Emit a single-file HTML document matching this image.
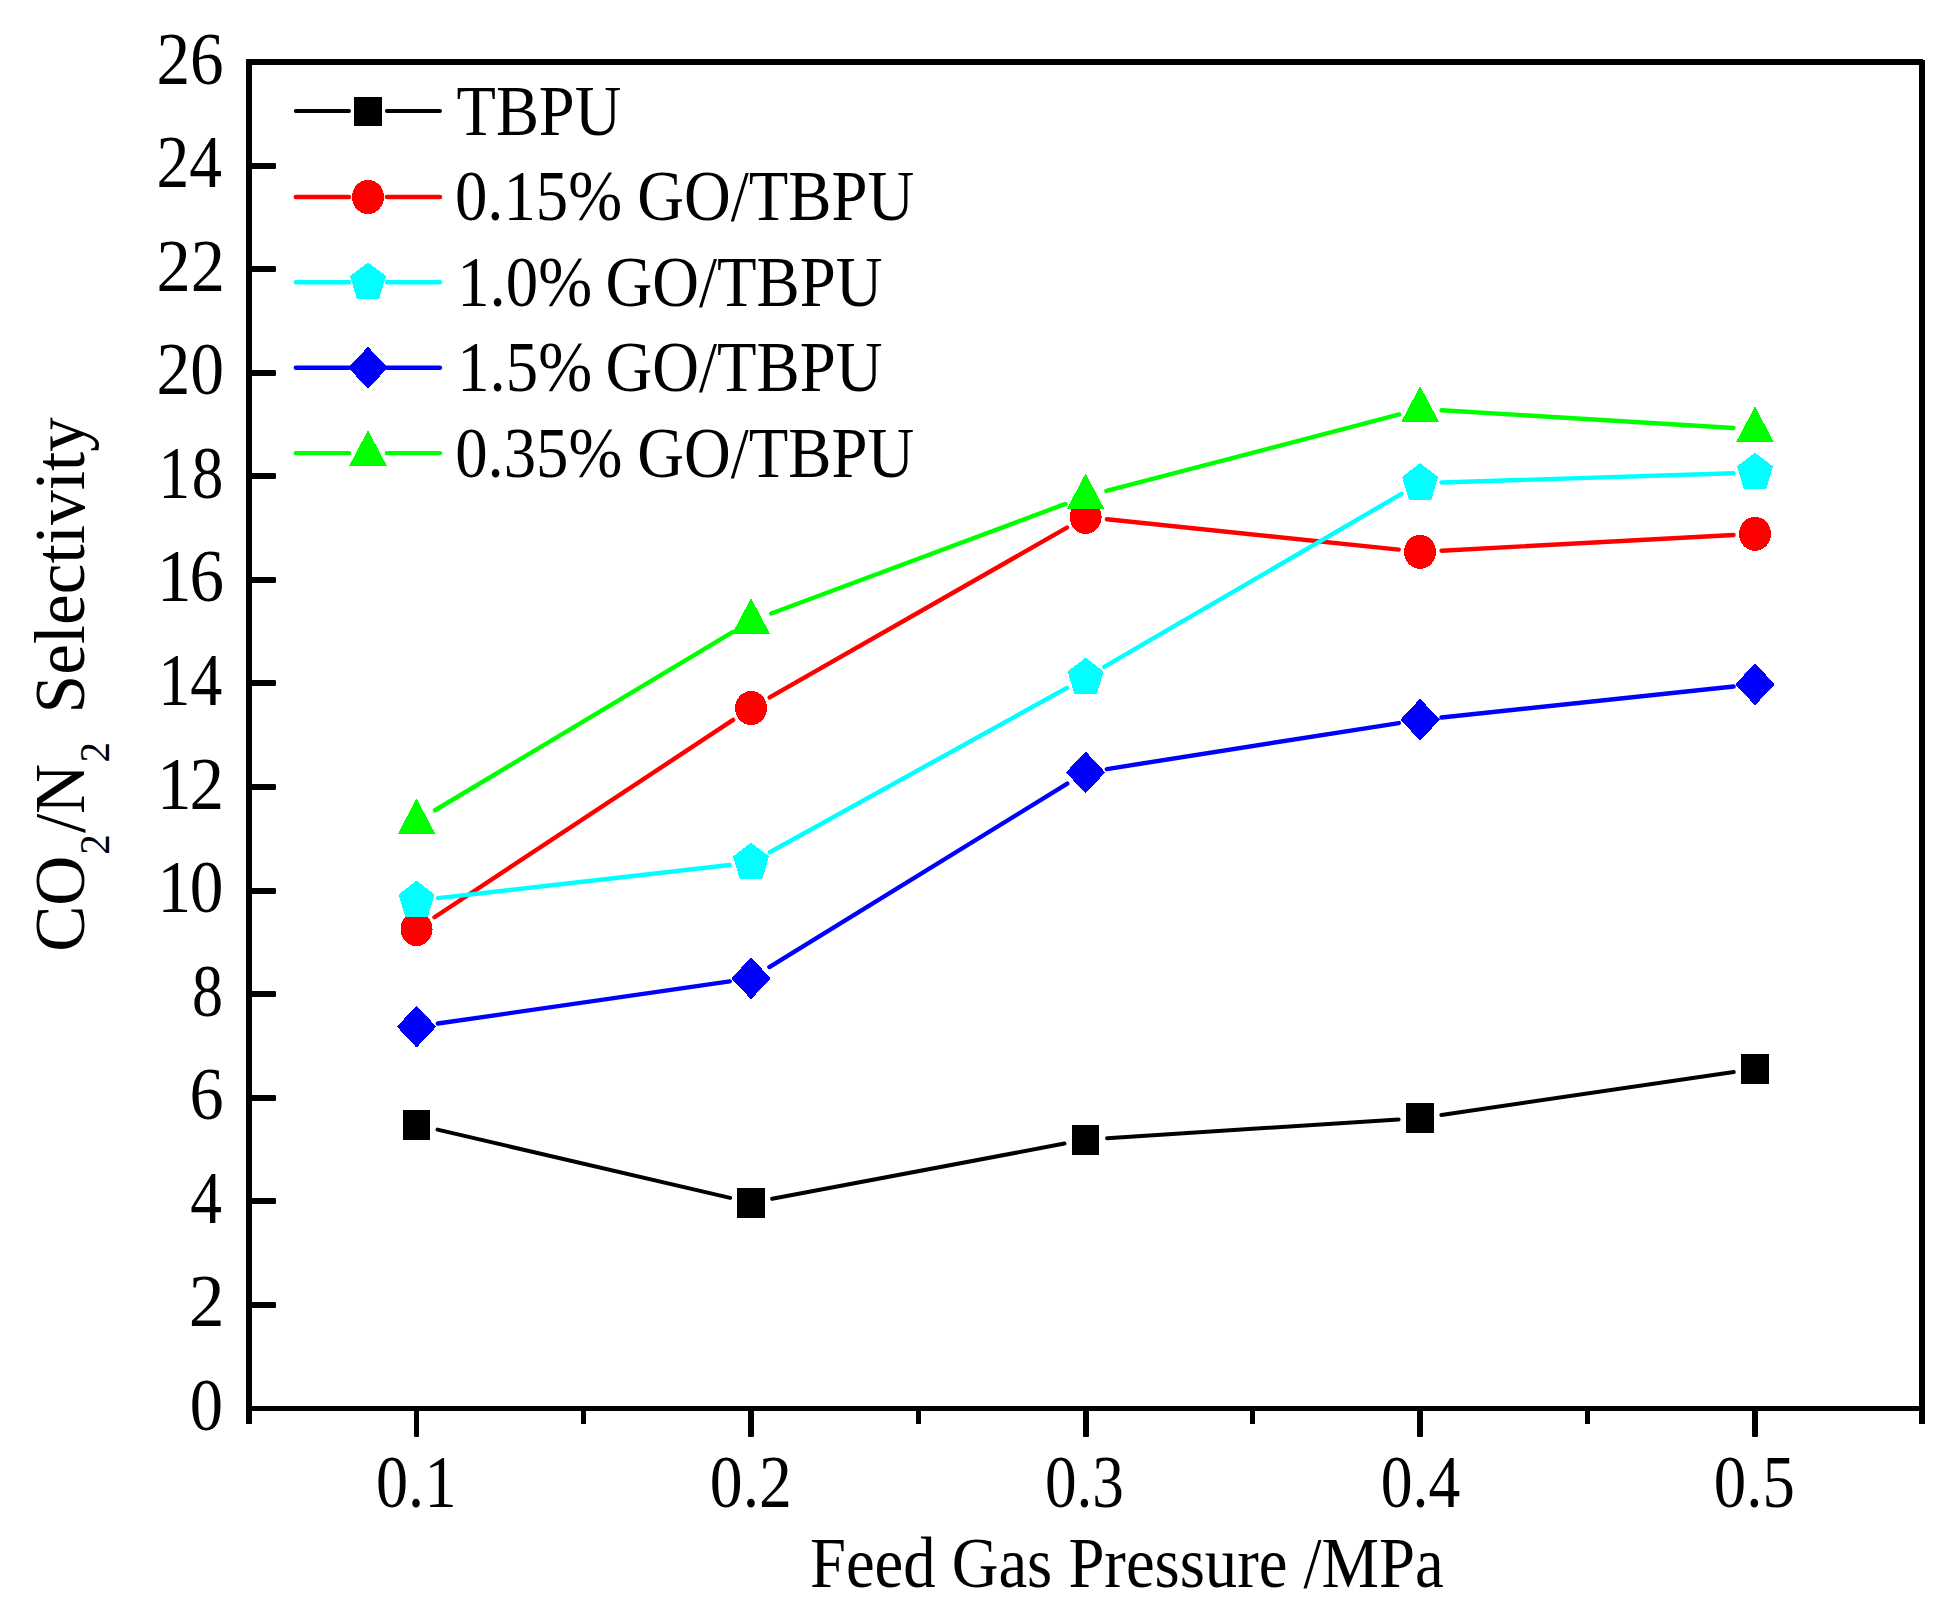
<!DOCTYPE html>
<html lang="en"><head><meta charset="utf-8"><title>CO2/N2 Selectivity vs Feed Gas Pressure</title>
<style>html,body{margin:0;padding:0;background:#fff}svg{display:block}text{font-family:"Liberation Serif",serif;font-size:72px;fill:#000;font-kerning:none;white-space:pre}</style>
</head><body>
<svg width="1954" height="1617" viewBox="0 0 1954 1617">
<rect width="1954" height="1617" fill="#fff"/>
<g id="plot" shape-rendering="crispEdges">
<path d="M437.49 1129.64L730.11 1197.91M772.18 1198.81L1064.47 1143.59M1107.06 1138.22L1398.64 1119.43M1441.37 1114.93L1733.73 1072.02" fill="none" stroke="#000000" stroke-width="4" stroke-linecap="round" shape-rendering="geometricPrecision"/>
<rect x="402.7" y="1109.75" width="27.7" height="30" fill="#000000"/>
<rect x="737.2" y="1187.8" width="27.7" height="30" fill="#000000"/>
<rect x="1071.75" y="1124.6" width="27.7" height="30" fill="#000000"/>
<rect x="1406.25" y="1103.05" width="27.7" height="30" fill="#000000"/>
<rect x="1741.15" y="1053.9" width="27.7" height="30" fill="#000000"/>
<path d="M434.49 917.25L733.11 719.9M769.72 697.39L1066.93 527.66M1106.98 519.23L1398.72 549.62M1441.57 550.69L1733.53 534.96" fill="none" stroke="#ff0000" stroke-width="4.4" stroke-linecap="round" shape-rendering="geometricPrecision"/>
<ellipse cx="416.55" cy="929.1" rx="16" ry="17.05" fill="#ff0000"/>
<ellipse cx="751.05" cy="708.05" rx="16" ry="17.05" fill="#ff0000"/>
<ellipse cx="1085.6" cy="517" rx="16" ry="17.05" fill="#ff0000"/>
<ellipse cx="1420.1" cy="551.85" rx="16" ry="17.05" fill="#ff0000"/>
<ellipse cx="1755" cy="533.8" rx="16" ry="17.05" fill="#ff0000"/>
<path d="M437.91 898.17L729.69 865.03M769.86 852.2L1066.79 688M1104.19 666.79L1401.51 493.91M1441.59 482.43L1733.51 473.27" fill="none" stroke="#00ffff" stroke-width="4.4" stroke-linecap="round" shape-rendering="geometricPrecision"/>
<polygon points="416.55,881.3 433.95,894.6 427.35,916.7 405.75,916.7 399.15,894.6" fill="#00ffff" stroke="#00ffff" stroke-width="1" stroke-linejoin="round"/>
<polygon points="751.05,843.3 768.45,856.6 761.85,878.7 740.25,878.7 733.65,856.6" fill="#00ffff" stroke="#00ffff" stroke-width="1" stroke-linejoin="round"/>
<polygon points="1085.6,658.3 1103,671.6 1096.4,693.7 1074.8,693.7 1068.2,671.6" fill="#00ffff" stroke="#00ffff" stroke-width="1" stroke-linejoin="round"/>
<polygon points="1420.1,463.8 1437.5,477.1 1430.9,499.2 1409.3,499.2 1402.7,477.1" fill="#00ffff" stroke="#00ffff" stroke-width="1" stroke-linejoin="round"/>
<polygon points="1755,453.3 1772.4,466.6 1765.8,488.7 1744.2,488.7 1737.6,466.6" fill="#00ffff" stroke="#00ffff" stroke-width="1" stroke-linejoin="round"/>
<path d="M437.83 1023.53L729.77 981.37M769.36 967.03L1067.29 783.67M1106.84 769.05L1398.86 723.05M1441.48 717.44L1733.62 686.56" fill="none" stroke="#0000ff" stroke-width="4.4" stroke-linecap="round" shape-rendering="geometricPrecision"/>
<polygon points="416.55,1006.3 435.55,1026.6 416.55,1046.9 397.55,1026.6" fill="#0000ff" stroke="#0000ff" stroke-width="1" stroke-linejoin="round"/>
<polygon points="751.05,958 770.05,978.3 751.05,998.6 732.05,978.3" fill="#0000ff" stroke="#0000ff" stroke-width="1" stroke-linejoin="round"/>
<polygon points="1085.6,752.1 1104.6,772.4 1085.6,792.7 1066.6,772.4" fill="#0000ff" stroke="#0000ff" stroke-width="1" stroke-linejoin="round"/>
<polygon points="1420.1,699.4 1439.1,719.7 1420.1,740 1401.1,719.7" fill="#0000ff" stroke="#0000ff" stroke-width="1" stroke-linejoin="round"/>
<polygon points="1755,664 1774,684.3 1755,704.6 1736,684.3" fill="#0000ff" stroke="#0000ff" stroke-width="1" stroke-linejoin="round"/>
<path d="M435 810.25L732.6 632.05M771.2 613.5L1065.45 503.9M1106.4 490.96L1399.3 414.44M1441.56 410.3L1733.54 428" fill="none" stroke="#00ff00" stroke-width="4.4" stroke-linecap="round" shape-rendering="geometricPrecision"/>
<polygon points="416.55,799.5 434.65,833.7 398.45,833.7" fill="#00ff00" stroke="#00ff00" stroke-width="1" stroke-linejoin="round"/>
<polygon points="751.05,599.2 769.15,633.4 732.95,633.4" fill="#00ff00" stroke="#00ff00" stroke-width="1" stroke-linejoin="round"/>
<polygon points="1085.6,474.6 1103.7,508.8 1067.5,508.8" fill="#00ff00" stroke="#00ff00" stroke-width="1" stroke-linejoin="round"/>
<polygon points="1420.1,387.2 1438.2,421.4 1402,421.4" fill="#00ff00" stroke="#00ff00" stroke-width="1" stroke-linejoin="round"/>
<polygon points="1755,407.5 1773.1,441.7 1736.9,441.7" fill="#00ff00" stroke="#00ff00" stroke-width="1" stroke-linejoin="round"/>
</g>
<g id="axes" stroke="#000" fill="none" shape-rendering="crispEdges">
<g stroke="none" fill="#000">
<rect x="246" y="59" width="6" height="1365"/>
<rect x="246" y="59" width="1677" height="6"/>
<rect x="1919" y="60" width="6" height="1364"/>
<rect x="246" y="1406" width="1679" height="5"/>
</g>
<g stroke="none" fill="#000" shape-rendering="geometricPrecision">
<rect x="250" y="1302" width="26" height="6" rx="1.3"/>
<rect x="250" y="1198" width="26" height="6" rx="1.3"/>
<rect x="250" y="1095" width="26" height="6" rx="1.3"/>
<rect x="250" y="991" width="26" height="6" rx="1.3"/>
<rect x="250" y="888" width="26" height="6" rx="1.3"/>
<rect x="250" y="784" width="26" height="6" rx="1.3"/>
<rect x="250" y="680" width="26" height="6" rx="1.3"/>
<rect x="250" y="577" width="26" height="6" rx="1.3"/>
<rect x="250" y="473" width="26" height="6" rx="1.3"/>
<rect x="250" y="370" width="26" height="6" rx="1.3"/>
<rect x="250" y="266" width="26" height="6" rx="1.3"/>
<rect x="250" y="163" width="26" height="6" rx="1.3"/>
<rect x="414" y="1408" width="5" height="29" rx="1"/>
<rect x="748" y="1408" width="6" height="29" rx="1"/>
<rect x="1083" y="1408" width="6" height="29" rx="1"/>
<rect x="1417" y="1408" width="6" height="29" rx="1"/>
<rect x="1752" y="1408" width="6" height="29" rx="1"/>
<rect x="581" y="1408" width="5" height="16"/>
<rect x="916" y="1408" width="5" height="16"/>
<rect x="1250" y="1408" width="5" height="16"/>
<rect x="1585" y="1408" width="5" height="16"/>
</g>
</g>
<g id="labels">
<text transform="translate(189.87 1430) scale(0.9053 1)" style="font-size:73.5px">0</text>
<text transform="translate(188.75 1326.43) scale(0.9741 1)" style="font-size:73.5px">2</text>
<text transform="translate(190.36 1222.87) scale(0.8634 1)" style="font-size:73.5px">4</text>
<text transform="translate(189.56 1119.3) scale(0.9299 1)" style="font-size:73.5px">6</text>
<text transform="translate(192.04 1015.74) scale(0.8443 1)" style="font-size:73.5px">8</text>
<text transform="translate(157.45 912.17) scale(0.9149 1)"><tspan style="font-size:73.5px">1</tspan><tspan dx="-1.35" style="font-size:73.5px">0</tspan></text>
<text transform="translate(156.97 808.61) scale(0.9400 1)"><tspan style="font-size:73.5px">1</tspan><tspan dx="-2.12" style="font-size:73.5px">2</tspan></text>
<text transform="translate(158.28 705.04) scale(0.8722 1)"><tspan style="font-size:73.5px">1</tspan><tspan dx="0.02" style="font-size:73.5px">4</tspan></text>
<text transform="translate(156.98 601.48) scale(0.9394 1)"><tspan style="font-size:73.5px">1</tspan><tspan dx="-2.09" style="font-size:73.5px">6</tspan></text>
<text transform="translate(158.52 497.91) scale(0.8600 1)"><tspan style="font-size:73.5px">1</tspan><tspan dx="2.06" style="font-size:73.5px">8</tspan></text>
<text transform="translate(156.53 394.35) scale(0.9189 1)" style="font-size:73.5px">20</text>
<text transform="translate(156.5 290.78) scale(0.9303 1)" style="font-size:73.5px">22</text>
<text transform="translate(156.62 187.22) scale(0.8912 1)" style="font-size:73.5px">24</text>
<text transform="translate(156.55 83.65) scale(0.9136 1)" style="font-size:73.5px">26</text>
<text transform="translate(375.96 1507.2) scale(0.8719 1)"><tspan style="font-size:73.5px">0.</tspan><tspan dx="0.62" style="font-size:73.5px">1</tspan></text>
<text transform="translate(709.8 1507.2) scale(0.8939 1)" style="font-size:73.5px">0.2</text>
<text transform="translate(1044.89 1507.2) scale(0.8607 1)" style="font-size:73.5px">0.3</text>
<text transform="translate(1380.67 1507.2) scale(0.8666 1)" style="font-size:73.5px">0.4</text>
<text transform="translate(1713.83 1507.2) scale(0.8816 1)" style="font-size:73.5px">0.5</text>
<text transform="translate(809.94 1587) scale(0.8979 1)">Feed Gas Pressure /MPa</text>
<text transform="translate(84.3 949) rotate(-90) translate(-2.84 0) scale(0.9620 1)">CO<tspan dx="0.84" dy="24.5" style="font-size:42.8px">2</tspan><tspan dx="1.17" dy="-24.5">/N</tspan><tspan dx="1.33" dy="24.5" style="font-size:42.8px">2</tspan><tspan dx="11.77" dy="-24.5"> Selectivity</tspan></text>
</g>
<g id="legend">
<g shape-rendering="crispEdges">
<path d="M295.8 110.9H349M386.9 110.9H440" stroke="#000000" stroke-width="4" stroke-linecap="round" fill="none" shape-rendering="geometricPrecision"/>
<rect x="353.8" y="96.9" width="28.3" height="29" fill="#000"/>
</g>
<text transform="translate(456.54 135) scale(0.8950 1)">TBPU</text>
<g shape-rendering="crispEdges">
<path d="M295.8 197H349M386.9 197H440" stroke="#ff0000" stroke-width="4.4" stroke-linecap="round" fill="none" shape-rendering="geometricPrecision"/>
<ellipse cx="368" cy="197" rx="16" ry="17.05" fill="#ff0000"/>
</g>
<text transform="translate(454.93 220) scale(0.8990 1)">0.15%<tspan dx="-1.06"> GO/TBPU</tspan></text>
<g shape-rendering="crispEdges">
<path d="M295.8 282.3H349M386.9 282.3H440" stroke="#00ffff" stroke-width="4.4" stroke-linecap="round" fill="none" shape-rendering="geometricPrecision"/>
<polygon points="368,263 385.4,276.3 378.8,298.4 357.2,298.4 350.6,276.3" fill="#00ffff" stroke="#00ffff" stroke-width="1" stroke-linejoin="round"/>
</g>
<text transform="translate(457.21 306.1) scale(0.8993 1)">1.0%<tspan dx="-3.14"> GO/TBPU</tspan></text>
<g shape-rendering="crispEdges">
<path d="M295.8 367.8H349M386.9 367.8H440" stroke="#0000ff" stroke-width="4.4" stroke-linecap="round" fill="none" shape-rendering="geometricPrecision"/>
<polygon points="368,347.5 387,367.8 368,388.1 349,367.8" fill="#0000ff" stroke="#0000ff" stroke-width="1" stroke-linejoin="round"/>
</g>
<text transform="translate(457.21 391.1) scale(0.8993 1)">1.5%<tspan dx="-3.14"> GO/TBPU</tspan></text>
<g shape-rendering="crispEdges">
<path d="M295.8 453.1H349M386.9 453.1H440" stroke="#00ff00" stroke-width="4.4" stroke-linecap="round" fill="none" shape-rendering="geometricPrecision"/>
<polygon points="368,431.3 386.1,465.5 349.9,465.5" fill="#00ff00" stroke="#00ff00" stroke-width="1" stroke-linejoin="round"/>
</g>
<text transform="translate(455.13 476.8) scale(0.8990 1)">0.35%<tspan dx="-1.29"> GO/TBPU</tspan></text>
</g>
</svg>
</body></html>
